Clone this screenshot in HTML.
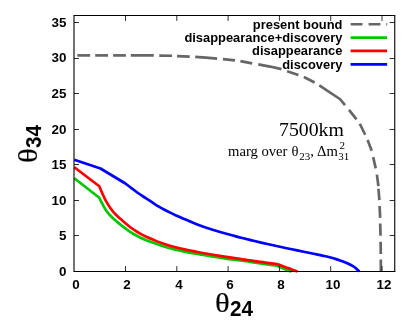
<!DOCTYPE html>
<html><head><meta charset="utf-8"><title>plot</title>
<style>
html,body{margin:0;padding:0;background:#fff;}
body{width:409px;height:326px;position:relative;overflow:hidden;font-family:"Liberation Sans",sans-serif;color:#000;}
.xt,.yt,.lg{position:absolute;font-weight:bold;font-size:12.9px;line-height:16px;height:16px;white-space:nowrap;}
.xt{top:277px;width:40px;text-align:center;font-size:13.4px;}
.yt{left:0;width:66.4px;text-align:right;font-size:13.4px;}
.lg{left:100px;width:242.4px;text-align:right;}
.xt,.yt,.lg,.ser{will-change:transform;}

.lb{position:absolute;font-weight:bold;white-space:nowrap;will-change:transform;transform:scaleY(1.05);transform-origin:0 80%;}
.rot{position:absolute;width:60px;height:40px;transform-origin:0 0;transform:rotate(-90deg);}
.th{font-size:28px;line-height:36px;transform-origin:0 0;transform:scaleX(1.10);-webkit-text-stroke:0.15px #000;}
.ser{position:absolute;font-family:"Liberation Serif",serif;white-space:nowrap;}
sub,sup{line-height:0;}
</style></head><body>
<svg width="409" height="326" viewBox="0 0 409 326" style="position:absolute;left:0;top:0">
<polyline points="77.30,55.40 90.10,55.40" fill="none" stroke="#666" stroke-width="2.7" stroke-linejoin="round"/>
<polyline points="95.20,55.40 108.00,55.40" fill="none" stroke="#666" stroke-width="2.7" stroke-linejoin="round"/>
<polyline points="113.10,55.40 125.90,55.40" fill="none" stroke="#666" stroke-width="2.7" stroke-linejoin="round"/>
<polyline points="130.80,55.40 153.80,55.35" fill="none" stroke="#666" stroke-width="2.7" stroke-linejoin="round"/>
<polyline points="159.30,55.54 172.10,55.76" fill="none" stroke="#666" stroke-width="2.7" stroke-linejoin="round"/>
<polyline points="177.00,56.03 189.70,56.57" fill="none" stroke="#666" stroke-width="2.7" stroke-linejoin="round"/>
<polyline points="195.20,56.85 206.00,57.65 217.10,58.65" fill="none" stroke="#666" stroke-width="2.7" stroke-linejoin="round"/>
<polyline points="222.90,59.15 235.00,60.35" fill="none" stroke="#666" stroke-width="2.7" stroke-linejoin="round"/>
<polyline points="240.40,61.15 252.20,63.45" fill="none" stroke="#666" stroke-width="2.7" stroke-linejoin="round"/>
<polyline points="258.30,64.35 270.00,66.55 281.50,69.15" fill="none" stroke="#666" stroke-width="2.7" stroke-linejoin="round"/>
<polyline points="287.10,71.25 298.40,75.05" fill="none" stroke="#666" stroke-width="2.7" stroke-linejoin="round"/>
<polyline points="303.90,76.95 314.60,82.45" fill="none" stroke="#666" stroke-width="2.7" stroke-linejoin="round"/>
<polyline points="319.30,85.35 340.20,99.25 345.00,105.05" fill="none" stroke="#666" stroke-width="2.7" stroke-linejoin="round"/>
<polyline points="349.00,109.85 356.50,119.35" fill="none" stroke="#666" stroke-width="2.7" stroke-linejoin="round"/>
<polyline points="359.80,123.75 365.20,134.75" fill="none" stroke="#666" stroke-width="2.7" stroke-linejoin="round"/>
<polyline points="367.60,139.95 371.70,150.85" fill="none" stroke="#666" stroke-width="2.7" stroke-linejoin="round"/>
<polyline points="373.20,157.15 375.70,168.35" fill="none" stroke="#666" stroke-width="2.7" stroke-linejoin="round"/>
<polyline points="376.90,174.55 378.40,186.05" fill="none" stroke="#666" stroke-width="2.7" stroke-linejoin="round"/>
<polyline points="378.45,188.75 379.40,200.15" fill="none" stroke="#666" stroke-width="2.7" stroke-linejoin="round"/>
<polyline points="379.60,206.05 380.15,217.85" fill="none" stroke="#666" stroke-width="2.7" stroke-linejoin="round"/>
<polyline points="380.20,223.55 380.55,235.75" fill="none" stroke="#666" stroke-width="2.7" stroke-linejoin="round"/>
<polyline points="380.60,241.65 380.80,253.95" fill="none" stroke="#666" stroke-width="2.7" stroke-linejoin="round"/>
<polyline points="380.80,259.45 380.90,271.20" fill="none" stroke="#666" stroke-width="2.7" stroke-linejoin="round"/>
<path d="M350.7 24.2H362.5M368.6 24.2H380.4M386.3 24.2H387.2" stroke="#666" stroke-width="2.5" fill="none"/>
<path d="M350.6 37.65H387.1" stroke="#00c800" stroke-width="2.7"/>
<path d="M350.6 50.95H387.1" stroke="#ff0000" stroke-width="2.7"/>
<path d="M350.6 64.4H387.1" stroke="#0000ff" stroke-width="2.7"/>
<path d="M74.30 178.20L99.30 197.80C99.82 198.82 101.28 201.82 102.40 203.90C103.52 205.98 104.73 208.42 106.00 210.30C107.27 212.18 108.32 213.42 110.00 215.20C111.68 216.98 114.05 219.20 116.10 221.00C118.15 222.80 120.25 224.40 122.30 226.00C124.35 227.60 126.37 229.18 128.40 230.60C130.43 232.02 132.47 233.30 134.50 234.50C136.53 235.70 138.55 236.82 140.60 237.80C142.65 238.78 144.75 239.60 146.80 240.40C148.85 241.20 150.32 241.67 152.90 242.60C155.48 243.53 158.70 244.87 162.30 246.00C165.90 247.13 170.42 248.38 174.50 249.40C178.58 250.42 182.55 251.27 186.80 252.10C191.05 252.93 193.72 253.37 200.00 254.40C206.28 255.43 216.17 257.07 224.50 258.30C232.83 259.53 242.87 260.80 250.00 261.80C257.13 262.80 262.90 263.68 267.30 264.30C271.70 264.92 274.88 265.30 276.40 265.50C277.93 266.15 283.10 268.38 285.60 269.40C288.10 270.42 290.43 271.23 291.40 271.60" fill="none" stroke="#00c800" stroke-width="2.7" stroke-linejoin="round"/>
<path d="M74.30 167.20L99.30 186.20C99.82 187.42 101.28 191.00 102.40 193.50C103.52 196.00 104.58 198.65 106.00 201.20C107.42 203.75 109.62 206.93 110.90 208.80C112.18 210.67 112.52 211.08 113.70 212.40C114.88 213.72 116.57 215.35 118.00 216.70C119.43 218.05 120.57 219.00 122.30 220.50C124.03 222.00 126.37 224.08 128.40 225.70C130.43 227.32 132.47 228.83 134.50 230.20C136.53 231.57 138.55 232.77 140.60 233.90C142.65 235.03 144.75 236.05 146.80 237.00C148.85 237.95 150.32 238.55 152.90 239.60C155.48 240.65 158.70 242.07 162.30 243.30C165.90 244.53 170.42 245.90 174.50 247.00C178.58 248.10 182.55 248.98 186.80 249.90C191.05 250.82 193.72 251.38 200.00 252.50C206.28 253.62 217.45 255.47 224.50 256.60C231.55 257.73 237.30 258.53 242.30 259.30C247.30 260.07 250.33 260.60 254.50 261.20C258.67 261.80 263.55 262.42 267.30 262.90C271.05 263.38 275.38 263.90 277.00 264.10C278.43 264.62 283.13 266.32 285.60 267.20C288.07 268.08 289.82 268.67 291.80 269.40C293.78 270.13 296.55 271.23 297.50 271.60" fill="none" stroke="#ff0000" stroke-width="2.7" stroke-linejoin="round"/>
<path d="M74.30 159.80L100.50 168.50L125.40 183.50C126.47 184.32 129.72 186.82 131.80 188.40C133.88 189.98 135.52 191.33 137.90 193.00C140.28 194.67 143.70 196.83 146.10 198.40C148.50 199.97 150.25 201.08 152.30 202.40C154.35 203.72 156.37 205.07 158.40 206.30C160.43 207.53 162.47 208.70 164.50 209.80C166.53 210.90 168.55 211.92 170.60 212.90C172.65 213.88 174.75 214.78 176.80 215.70C178.85 216.62 180.70 217.45 182.90 218.40C185.10 219.35 187.60 220.40 190.00 221.40C192.40 222.40 194.05 223.18 197.30 224.40C200.55 225.62 205.42 227.40 209.50 228.75C213.58 230.10 217.55 231.28 221.80 232.50C226.05 233.72 231.58 235.18 235.00 236.10C238.42 237.02 239.05 237.18 242.30 238.00C245.55 238.82 250.33 240.00 254.50 241.00C258.67 242.00 263.05 243.03 267.30 244.00C271.55 244.97 275.92 245.92 280.00 246.80C284.08 247.68 287.63 248.43 291.80 249.30C295.97 250.17 301.58 251.30 305.00 252.00C308.42 252.70 309.05 252.83 312.30 253.50C315.55 254.17 321.45 255.33 324.50 256.00C327.55 256.67 328.55 256.93 330.60 257.50C332.65 258.07 334.75 258.73 336.80 259.40C338.85 260.07 341.15 260.85 342.90 261.50C344.65 262.15 345.55 262.48 347.30 263.30C349.05 264.12 351.88 265.50 353.40 266.40C354.92 267.30 355.42 267.85 356.40 268.70C357.38 269.55 358.82 271.03 359.30 271.50" fill="none" stroke="#0000ff" stroke-width="2.7" stroke-linejoin="round"/>
<path d="M125.50 271.5v-5.4M125.50 15.5v5.4M176.80 271.5v-5.4M176.80 15.5v5.4M228.10 271.5v-5.4M228.10 15.5v5.4M279.40 271.5v-5.4M279.40 15.5v5.4M330.70 271.5v-5.4M330.70 15.5v5.4M382.00 271.5v-5.4M382.00 15.5v5.4M74 235.50h5M394.75 235.50h-5.1M74 200.50h5M394.75 200.50h-5.1M74 164.50h5M394.75 164.50h-5.1M74 129.50h5M394.75 129.50h-5.1M74 93.50h5M394.75 93.50h-5.1M74 58.50h5M394.75 58.50h-5.1M74 22.50h5M394.75 22.50h-5.1" stroke="#111" stroke-width="0.88" fill="none"/>
<path d="M73.5 15.5H395.3M73.5 271.5H395.3" fill="none" stroke="#000" stroke-width="1"/>
<path d="M74.0 15.5V271.5M394.75 15.5V271.5" fill="none" stroke="#000" stroke-width="1.1"/>
</svg>
<div class="xt" style="left:56.10px">0</div>
<div class="xt" style="left:107.40px">2</div>
<div class="xt" style="left:158.70px">4</div>
<div class="xt" style="left:210.00px">6</div>
<div class="xt" style="left:261.30px">8</div>
<div class="xt" style="left:312.60px">10</div>
<div class="xt" style="left:363.90px">12</div>
<div class="yt" style="top:263.90px">0</div>
<div class="yt" style="top:228.33px">5</div>
<div class="yt" style="top:192.76px">10</div>
<div class="yt" style="top:157.19px">15</div>
<div class="yt" style="top:121.61px">20</div>
<div class="yt" style="top:86.04px">25</div>
<div class="yt" style="top:50.47px">30</div>
<div class="yt" style="top:14.90px">35</div>
<div class="lg" style="top:16.50px">present bound</div>
<div class="lg" style="top:29.95px">disappearance+discovery</div>
<div class="lg" style="top:43.25px">disappearance</div>
<div class="lg" style="top:56.70px">discovery</div>
<div class="ser" id="t1" style="left:279px;top:116.9px;font-size:19.75px;line-height:24px;">7500km</div>
<div class="ser" id="t2" style="left:227.8px;top:141.7px;font-size:14.65px;line-height:18px;">marg over <span id="th" style="margin-left:0.3px">&#952;</span><span id="s23" style="font-size:11px;position:relative;top:4.3px;margin-left:0.8px">23</span>,<span style="margin-left:0.2px"> &#916;m</span><span id="s2" style="font-size:11px;position:relative;top:-7.5px;margin-left:1.8px">2</span><span id="s31" style="font-size:11px;position:relative;top:4.3px;margin-left:-6.8px">31</span></div>
<div class="ser th" id="xth" style="left:214.8px;top:284.9px;">&#952;</div>
<div class="lb" id="x24" style="left:230.3px;top:297.2px;font-size:20.7px;line-height:24px;">24</div>
<div class="rot" style="left:0;top:200px;">
<div class="ser th" id="yth" style="left:36.8px;top:9.9px;">&#952;</div>
<div class="lb" id="y34" style="left:52px;top:22.4px;font-size:20.7px;line-height:24px;">34</div>
</div>
</body></html>
